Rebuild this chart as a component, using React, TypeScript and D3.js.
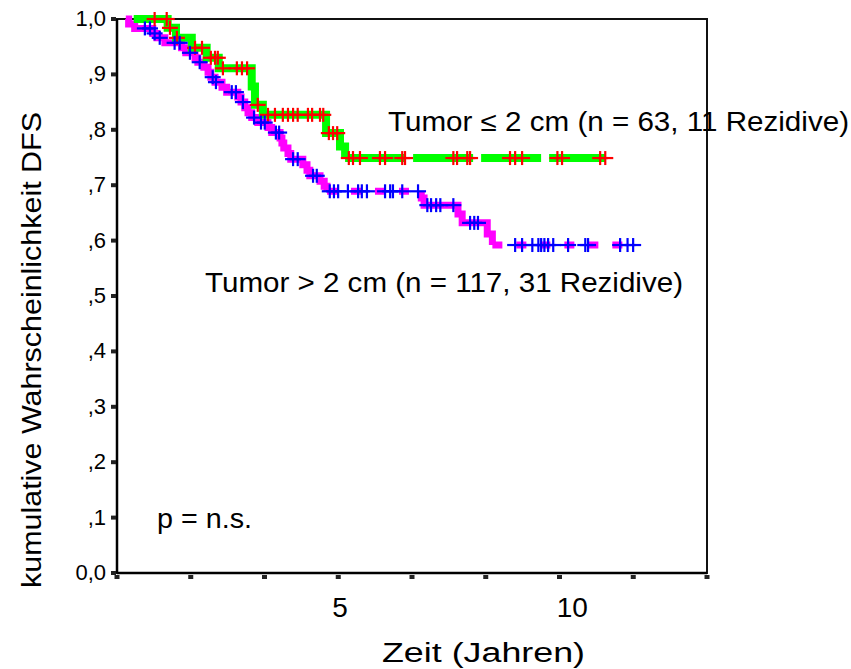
import React, { useEffect, useRef } from 'react';
import * as d3 from 'd3';

// Tumor <= 2 cm: Kaplan-Meier steps (time in years, cumulative DFS)
const smallTimes = [0.56, 1.29, 1.47, 1.81, 2.13, 2.39, 3.10, 3.17, 3.34, 4.70, 5.00, 5.11, 10.71];
const smallSurv = [1.0, 0.984, 0.966, 0.948, 0.930, 0.911, 0.878, 0.845, 0.827, 0.794, 0.770, 0.749, 0.749];
const smallCensored = [
  1.01, 1.27, 1.34, 1.49, 1.88, 2.03, 2.22, 2.31, 2.37, 2.48, 2.78, 2.89, 3.0, 3.23,
  3.45, 3.60, 3.77, 3.88, 3.99, 4.09, 4.31, 4.40, 4.57, 4.64, 4.76, 4.85, 4.94,
  5.19, 5.28, 5.43, 5.86, 5.97, 6.34, 6.40, 7.44, 7.52, 7.74, 7.80, 8.66, 8.77, 8.92,
  9.68, 9.78, 10.60, 10.71,
];

// Tumor > 2 cm
const largeTimes = [
  0.39, 0.45, 0.58, 0.97, 1.06, 1.23, 1.59, 1.68, 1.88, 1.94, 2.07, 2.16, 2.22, 2.31,
  2.46, 2.56, 2.80, 2.87, 2.95, 3.02, 3.10, 3.23, 3.45, 3.53, 3.71, 3.75, 3.79, 3.88,
  3.94, 4.20, 4.29, 4.35, 4.57, 4.66, 4.72, 6.75, 6.81, 7.54, 7.63, 8.17, 8.28, 11.31,
];
const largeSurv = [
  1.0, 0.991, 0.983, 0.974, 0.966, 0.957, 0.948, 0.939, 0.930, 0.922, 0.913, 0.904, 0.895, 0.886,
  0.877, 0.868, 0.859, 0.850, 0.840, 0.831, 0.822, 0.813, 0.804, 0.795, 0.785, 0.776, 0.767, 0.757,
  0.747, 0.737, 0.727, 0.717, 0.707, 0.698, 0.689, 0.677, 0.664, 0.648, 0.632, 0.612, 0.592, 0.592,
];
const largeCensored = [
  0.80, 0.91, 1.01, 1.12, 1.44, 1.55, 1.77, 1.98, 2.26, 2.33, 2.67, 2.76, 2.91, 3.15,
  3.30, 3.38, 3.62, 3.69, 3.99, 4.09, 4.42, 4.50,
  4.78, 4.87, 4.96, 5.17, 5.39, 5.47, 5.58, 5.97, 6.08, 6.14, 6.34, 6.68,
  6.88, 6.96, 7.07, 7.16, 7.44, 7.80, 7.89, 7.97,
  8.77, 8.92, 9.14, 9.27, 9.33, 9.40, 9.48, 9.59, 9.91, 10.28, 10.34, 11.03, 11.19, 11.31,
];

const yTickValues = [0, 0.1, 0.2, 0.3, 0.4, 0.5, 0.6, 0.7, 0.8, 0.9, 1.0];
const yTickLabels = ['0,0', ',1', ',2', ',3', ',4', ',5', ',6', ',7', ',8', ',9', '1,0'];
const xTickValues = [5, 10];
const xTickLabels = ['5', '10'];
const xDomain = [0.2, 12.9];
const xMinorDivisions = 8;

const FONT = '"Liberation Sans", Arial, sans-serif';

const App: React.FC = () => {
  const svgRef = useRef<SVGSVGElement>(null);
  const width = 851;
  const height = 669;
  const plot = { left: 117, right: 707, top: 19, bottom: 573 };

  useEffect(() => {
    if (!svgRef.current) return;
    const svg = d3.select(svgRef.current);
    svg.selectAll('*').remove();

    const x = d3.scaleLinear().domain(xDomain).range([plot.left, plot.right]);
    const y = d3.scaleLinear().domain([0, 1]).range([plot.bottom, plot.top]);

    const line = d3.line<[number, number]>()
      .x(d => x(d[0]))
      .y(d => y(d[1]));

    // thick step curve; long flat runs come out broken as in the original print
    const drawBand = (times: number[], surv: number[], color: string, w: number, dash: string) => {
      const g = svg.append('g');
      const flush = (pts: [number, number][]) => {
        if (pts.length < 2) return;
        g.append('path')
          .attr('d', line(pts) as string)
          .attr('fill', 'none')
          .attr('stroke', color)
          .attr('stroke-width', w)
          .attr('stroke-linejoin', 'miter');
      };
      let run: [number, number][] = [[times[0], surv[0]]];
      for (let i = 1; i < times.length; i++) {
        if (times[i] - times[i - 1] > 1.8) {
          flush(run);
          g.append('line')
            .attr('x1', x(times[i - 1]))
            .attr('x2', x(times[i]))
            .attr('y1', y(surv[i - 1]))
            .attr('y2', y(surv[i - 1]))
            .attr('stroke', color)
            .attr('stroke-width', w)
            .attr('stroke-dasharray', dash);
          run = [[times[i], surv[i - 1]]];
        } else {
          run.push([times[i], surv[i - 1]]);
        }
        if (surv[i] !== surv[i - 1]) run.push([times[i], surv[i]]);
      }
      flush(run);
    };

    const survAt = (times: number[], surv: number[], t: number) => {
      const i = d3.bisectRight(times, t) - 1;
      return surv[Math.max(0, i)];
    };

    const drawCensors = (cens: number[], times: number[], surv: number[], color: string) => {
      const g = svg.append('g')
        .attr('stroke', color)
        .attr('stroke-width', 2.2);
      cens.forEach(t => {
        const cx = x(t);
        const cy = y(survAt(times, surv, t));
        g.append('line').attr('x1', cx - 8).attr('x2', cx + 8).attr('y1', cy).attr('y2', cy);
        g.append('line').attr('x1', cx).attr('x2', cx).attr('y1', cy - 7).attr('y2', cy + 7);
      });
    };

    // frame
    svg.append('rect')
      .attr('x', plot.left)
      .attr('y', plot.top)
      .attr('width', plot.right - plot.left)
      .attr('height', plot.bottom - plot.top)
      .attr('fill', 'none')
      .attr('stroke', '#111')
      .attr('stroke-width', 2);
    svg.append('line')
      .attr('x1', plot.left).attr('x2', plot.left)
      .attr('y1', plot.top).attr('y2', plot.bottom)
      .attr('stroke', '#000').attr('stroke-width', 2.5);
    svg.append('line')
      .attr('x1', plot.left).attr('x2', plot.right)
      .attr('y1', plot.bottom).attr('y2', plot.bottom)
      .attr('stroke', '#000').attr('stroke-width', 2.5);

    // y ticks
    svg.append('g').selectAll('rect')
      .data(yTickValues)
      .enter()
      .append('rect')
      .attr('x', plot.left - 6)
      .attr('y', d => y(d) - 2)
      .attr('width', 5)
      .attr('height', 4)
      .attr('fill', '#222');
    svg.append('g').selectAll('text')
      .data(yTickValues)
      .enter()
      .append('text')
      .attr('x', 106)
      .attr('y', d => y(d) + 7)
      .attr('text-anchor', 'end')
      .style('font-family', FONT)
      .style('font-size', '22px')
      .attr('fill', '#000')
      .text((d, i) => yTickLabels[i]);

    // x ticks (unlabelled marks) and labels
    const minor = d3.range(xMinorDivisions + 1)
      .map(i => xDomain[0] + (i * (xDomain[1] - xDomain[0])) / xMinorDivisions);
    svg.append('g').selectAll('rect')
      .data(minor)
      .enter()
      .append('rect')
      .attr('x', d => x(d) - 2.5)
      .attr('y', plot.bottom + 2)
      .attr('width', 5)
      .attr('height', 4)
      .attr('fill', '#222');
    svg.append('g').selectAll('text')
      .data(xTickValues)
      .enter()
      .append('text')
      .attr('x', d => x(d))
      .attr('y', 617)
      .attr('text-anchor', 'middle')
      .style('font-family', FONT)
      .style('font-size', '28px')
      .attr('fill', '#000')
      .text((d, i) => xTickLabels[i]);

    // curves
    drawBand(largeTimes, largeSurv, '#ff00ff', 7, '10 14');
    drawBand(smallTimes, smallSurv, '#00ff00', 8, '60 8');
    drawCensors(smallCensored, smallTimes, smallSurv, '#ff0000');
    drawCensors(largeCensored, largeTimes, largeSurv, '#0000ff');

    const addText = (txt: string, tx: number, ty: number, len: number | null, size = 27) => {
      const t = svg.append('text')
        .attr('x', tx)
        .attr('y', ty)
        .style('font-family', FONT)
        .style('font-size', `${size}px`)
        .attr('fill', '#000')
        .text(txt);
      if (len) t.attr('textLength', len).attr('lengthAdjust', 'spacingAndGlyphs');
      return t;
    };

    addText('Tumor ≤ 2 cm (n = 63, 11 Rezidive)', 388, 131, 461);
    addText('Tumor > 2 cm (n = 117, 31 Rezidive)', 205, 292, 478);
    addText('p = n.s.', 157, 528, 95);
    addText('Zeit (Jahren)', 382, 662, 203);

    svg.append('text')
      .attr('transform', 'translate(41,350) rotate(-90)')
      .attr('text-anchor', 'middle')
      .style('font-family', FONT)
      .style('font-size', '27px')
      .attr('fill', '#000')
      .attr('textLength', 476)
      .attr('lengthAdjust', 'spacingAndGlyphs')
      .text('kumulative Wahrscheinlichkeit DFS');
  }, []);

  return (
    <svg
      ref={svgRef}
      width={width}
      height={height}
      style={{ position: 'absolute', left: 0, top: 0, background: '#fff' }}
    />
  );
};

export default App;
